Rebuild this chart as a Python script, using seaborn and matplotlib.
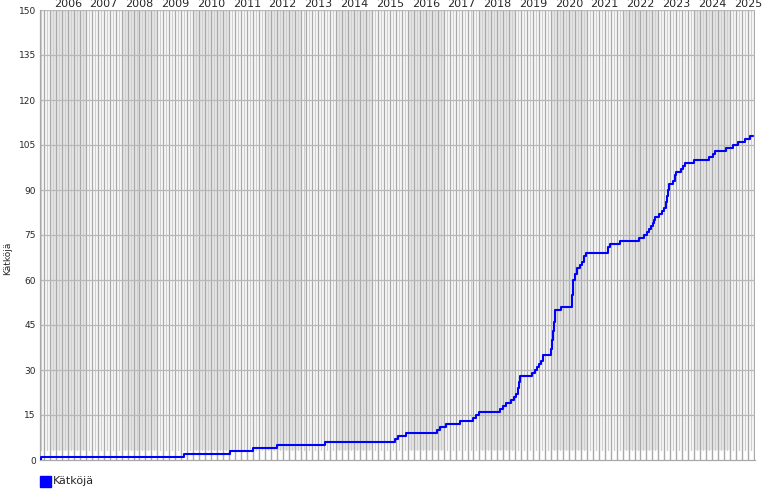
import matplotlib
matplotlib.use("Agg")
import matplotlib.pyplot as plt
import seaborn as sns
import pandas as pd
from matplotlib.patches import Rectangle

# decimal-year timestamps of the steps and the cumulative count after each step
event_years = [2005.72, 2005.76, 2009.74, 2011.03, 2011.67, 2012.34, 2013.68,
               2015.64, 2015.72, 2015.94, 2016.81, 2016.89, 2017.06, 2017.45,
               2017.82, 2017.90, 2017.98, 2018.57, 2018.65, 2018.74, 2018.88,
               2018.96, 2019.02, 2019.07, 2019.10, 2019.13, 2019.46, 2019.55,
               2019.60, 2019.66, 2019.71, 2019.77, 2019.99, 2020.02, 2020.05,
               2020.07, 2020.11, 2020.27, 2020.58, 2020.61, 2020.66, 2020.72,
               2020.81, 2020.86, 2020.92, 2020.97, 2021.59, 2021.64, 2021.92,
               2022.45, 2022.59, 2022.68, 2022.73, 2022.79, 2022.84, 2022.87,
               2022.90, 2023.01, 2023.10, 2023.15, 2023.21, 2023.24, 2023.26,
               2023.29, 2023.40, 2023.46, 2023.49, 2023.62, 2023.68, 2023.74,
               2023.99, 2024.41, 2024.52, 2024.57, 2024.88, 2025.08, 2025.22,
               2025.41, 2025.55, 2025.64]
cache_counts = [0, 1, 2, 3, 4, 5, 6,
                7, 8, 9, 10, 11, 12, 13,
                14, 15, 16, 17, 18, 19, 20,
                21, 22, 24, 26, 28, 29, 30,
                31, 32, 33, 35, 37, 40, 43,
                46, 50, 51, 55, 60, 62, 64,
                65, 66, 68, 69, 71, 72, 73,
                74, 75, 76, 77, 78, 79, 80,
                81, 82, 83, 84, 86, 88, 90,
                92, 93, 95, 96, 97, 98, 99,
                100, 101, 102, 103, 104, 105, 106,
                107, 108, 108]
year_labels = [str(y) for y in range(2006, 2026)]
y_ticks = list(range(0, 151, 15))
series_name = "Kätköjä"

sns.set_theme(style="white")
plt.rcParams["font.family"] = ["DejaVu Sans"]

W, H = 770, 500
fig = plt.figure(figsize=(W / 100, H / 100), dpi=100)
ax = fig.add_axes([40 / W, 40 / H, 715 / W, 450 / H])
x0, x1 = 2005.72, 2025.70
ax.set_xlim(x0, x1)
ax.set_ylim(0, 150)
low = 3.3 / 150

# alternating year bands
for yr in range(2006, 2026, 2):
    ax.axvspan(yr, yr + 1, ymin=low, ymax=1, color="#eaeaea", lw=0, zorder=0)
# month lines
for yr in range(2005, 2026):
    for m in range(12):
        xv = yr + m / 12
        if x0 < xv < x1:
            if m % 2 == 0:
                ax.axvline(xv, color="#a9a9a9", lw=1.0, zorder=1)
            else:
                ax.axvline(xv, ymin=low, color="#cfcfcf", lw=1.0, zorder=1)
for yv in y_ticks[1:]:
    ax.axhline(yv, color="#b8b8b8", lw=0.9, zorder=1.5)

df = pd.DataFrame({"year": event_years, "count": cache_counts})
sns.lineplot(data=df, x="year", y="count", drawstyle="steps-post",
             color="#0000ff", lw=1.5, ax=ax, zorder=3, legend=False)

ax.set_xlabel("")
ax.set_ylabel("")
ax.xaxis.tick_top()
ax.set_xticks([int(s) + 0.5 for s in year_labels])
ax.set_xticklabels(year_labels, fontsize=8)
ax.set_yticks(y_ticks)
ax.set_yticklabels([str(v) for v in y_ticks], fontsize=6.5)
ax.tick_params(axis="x", length=0, pad=1)
ax.tick_params(axis="y", length=0, pad=3)
for s in ["top", "right"]:
    ax.spines[s].set_visible(False)
for s in ["left", "bottom"]:
    ax.spines[s].set_color("#a8a8a8")
    ax.spines[s].set_linewidth(0.9)

fig.text(8 / W, 1 - 258 / H, series_name, rotation=90, fontsize=6.5,
         ha="center", va="center")
fig.patches.append(Rectangle((40 / W, 1 - 487 / H), 11 / W, 11 / H,
                             transform=fig.transFigure, color="#0000ff"))
fig.text(53 / W, 1 - 481 / H, series_name, fontsize=8, ha="left", va="center")

fig.savefig("out.png", dpi=100)
